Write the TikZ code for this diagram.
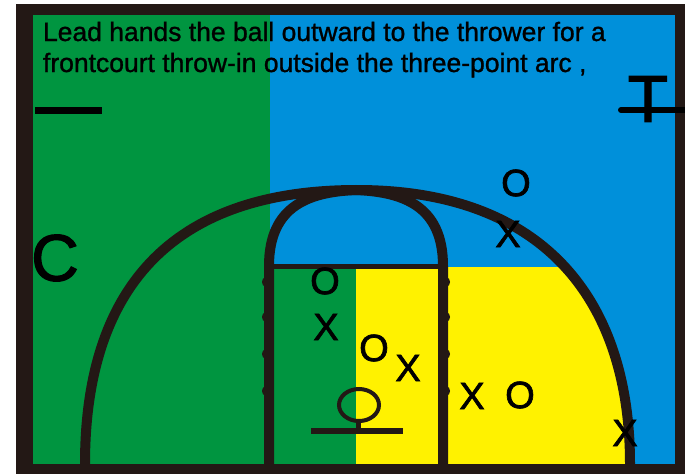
\documentclass[tikz,border=0pt]{standalone}
\usepackage{fontspec}
\setmainfont{Liberation Sans}
\newfontfamily\heavyfont[FakeBold=1.8]{Liberation Sans}
\newfontfamily\captionfont[FakeBold=1.1]{Liberation Sans}
\definecolor{courtgreen}{HTML}{009540}
\definecolor{courtblue}{HTML}{0090DA}
\definecolor{courtyellow}{HTML}{FFF200}
\definecolor{courtline}{HTML}{231815}
\begin{document}
\begin{tikzpicture}[x=1pt, y=-1pt,
    every node/.style={inner sep=0pt, outer sep=0pt},
    court/.style={draw=courtline, line width=10pt},
    player/.style={font=\heavyfont\fontsize{38}{38}\selectfont},
    bigletter/.style={font=\heavyfont\fontsize{66}{66}\selectfont},
    caption/.style={anchor=base west, font=\captionfont\fontsize{26.5}{30}\selectfont}]
    \useasboundingbox (0,0) rectangle (685,474);
    \fill[white] (0,0) rectangle (685,474);
    % coloured zones
    \fill[courtblue] (33,15) rectangle (675,464);
    \fill[courtgreen] (33,15) rectangle (270,464);
    \fill[courtgreen] (270,267) rectangle (356,464);
    \fill[courtyellow] (356,267) -- (567,267) .. controls (605,305) and (630,350) .. (630,464) -- (356,464) -- cycle;
    % three-point arc
    \draw[court] (85,464) .. controls (85,290) and (170,190) .. (357,190)
        .. controls (544,190) and (630,300) .. (630,464);
    % lane and top of the key
    \coordinate (laneL) at (269,464);
    \coordinate (laneR) at (443,464);
    \draw[court] (laneL) -- (269,266) .. controls (269,205) and (310,192) .. (356,190)
        .. controls (402,192) and (443,205) .. (443,266) -- (laneR);
    \draw[court, line width=5pt] (269,266) -- (443,266);
    % lane marks
    \foreach \y in {282,317,354,391} {
        \fill[courtline] (265,\y) ellipse (3pt and 4.5pt);
        \fill[courtline] (447,\y) ellipse (3pt and 4.5pt);
    }
    % hoop and backboard
    \draw[court, line width=4pt] (359,405) ellipse (20pt and 16pt);
    \draw[court, line width=5pt] (358,420) -- (358,431);
    \draw[court, line width=6pt] (311,431) -- (403,431);
    % frame
    \fill[courtline] (16,4) rectangle (33,474);
    \fill[courtline] (16,4) rectangle (685,15);
    \fill[courtline] (675,4) rectangle (685,474);
    \fill[courtline] (16,464) rectangle (685,474);
    % sideline marks
    \draw[black, line width=7pt] (35,110) -- (102,110);
    \draw[black, line width=6pt, line cap=round] (621,110) -- (685,110);
    % labels
    \node[caption] (captionA) at (43,41) {Lead hands the ball outward to the thrower for a};
    \node[caption] (captionB) at (43,72) {frontcourt throw-in outside the three-point arc ,};
    \node[bigletter] (coach) at (55,258) {C};
    \node[bigletter] (top) at (648,99) {T};
    % players
    \node[player] (o1) at (516,183) {O};
    \node[player] (x1) at (508,234) {X};
    \node[player] (o2) at (325,281) {O};
    \node[player] (x2) at (326,327) {X};
    \node[player] (o3) at (374,348) {O};
    \node[player] (x3) at (408,368) {X};
    \node[player] (x4) at (472,396) {X};
    \node[player] (o4) at (520,395) {O};
    \node[player] (x5) at (625,433) {X};
\end{tikzpicture}
\end{document}
